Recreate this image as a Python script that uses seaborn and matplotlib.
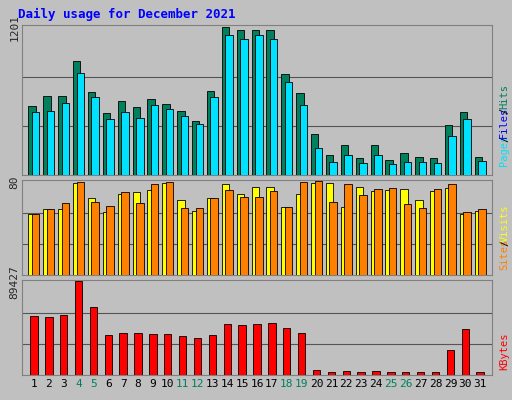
import matplotlib
matplotlib.use("Agg")
import matplotlib.pyplot as plt
import seaborn as sns
import numpy as np

days = list(range(1, 32))
hits_px = [107,97,97,63,93,114,102,108,100,105,112,122,92,29,32,32,32,75,94,135,155,145,158,145,160,153,157,158,126,113,157]
files_px = [113,112,104,74,98,120,113,119,106,110,117,125,98,37,41,37,41,83,106,148,162,155,163,155,164,162,162,163,137,120,161]
visits_px = [216,211,211,186,201,214,197,195,193,186,203,213,201,187,197,190,190,209,197,186,186,209,190,194,193,192,203,194,191,216,213]
sites_px = [216,211,205,185,204,208,195,205,187,185,210,210,201,193,200,200,194,209,185,184,204,187,198,192,191,206,210,192,187,214,211]
kb_px = [318,319,317,284,309,336,334,334,335,335,337,339,336,326,327,326,325,330,334,370,372,371,372,371,372,372,372,372,351,331,372]

hits = [(175 - p) / 145 * 1201 for p in hits_px]
files = [(175 - p) / 145 * 1201 for p in files_px]
visits = [(275 - p) / 90 * 80 for p in visits_px]
sites = [(275 - p) / 90 * 80 for p in sites_px]
kbytes = [(375 - p) / 90 * 89427 for p in kb_px]
weekend = {4, 5, 11, 12, 18, 19, 25, 26}

sns.set_style("white")
plt.rcParams['font.family'] = ['DejaVu Sans Mono', 'DejaVu Sans']
BG = "#C0C0C0"
fig = plt.figure(figsize=(5.12, 4), dpi=100, facecolor=BG)

def panel(rect, series, colors, vmax, label, offsets):
    ax = fig.add_axes(rect, facecolor=BG)
    d = np.array(days)
    for s, c, off in zip(series, colors, offsets):
        ax.bar(d + off, s, width=0.5, color=c, edgecolor="black", linewidth=0.6, zorder=3)
    ax.set_ylim(0, vmax * 1.02)
    ax.set_xlim(0.2, 31.8)
    for g in (vmax / 3, 2 * vmax / 3):
        ax.axhline(g, color="#555555", lw=0.8, zorder=1)
    ax.set_yticks([vmax])
    ax.set_yticklabels([label], rotation=90, va="center", fontsize=8)
    ax.tick_params(axis="y", length=0, pad=2)
    for sp in ax.spines.values():
        sp.set_color("#808080")
    return ax

ax1 = panel([0.043, 0.5625, 0.918, 0.375], [hits, files], ["#00805C", "#00E0FF"], 1201, "1201", [-0.12, 0.12])
ax2 = panel([0.043, 0.3125, 0.918, 0.2375], [visits, sites], ["#FFFF00", "#FF8000"], 80, "80", [-0.12, 0.12])
ax3 = panel([0.043, 0.0625, 0.918, 0.2375], [kbytes], ["#FF0000"], 89427, "89427", [0.0])
for ax in (ax1, ax2):
    ax.set_xticks([])
ax3.set_xticks(days)
ax3.set_xticklabels([str(d) for d in days], fontsize=8)
ax3.tick_params(axis="x", length=0, pad=3)
for t, d in zip(ax3.get_xticklabels(), days):
    t.set_color("#00805C" if d in weekend else "black")

fig.text(0.035, 0.965, "Daily usage for December 2021", color="#0000FF", fontsize=9, fontweight="bold", va="center")

def side(y, parts):
    yy = y
    for txt, c in parts:
        fig.text(0.985, yy, txt, color=c, rotation=90, fontsize=7.5, ha="center", va="bottom")
        yy += len(txt) * 0.0118
side(0.585, [("Pages", "#00E0FF"), ("/", "#000000"), ("Files", "#0000FF"), ("/", "#000000"), ("Hits", "#00805C")])
side(0.325, [("Sites", "#FF8000"), ("/", "#000000"), ("Visits", "#FFFF00")])
side(0.075, [("KBytes", "#FF0000")])

fig.savefig("out.png", dpi=100, facecolor=BG)
